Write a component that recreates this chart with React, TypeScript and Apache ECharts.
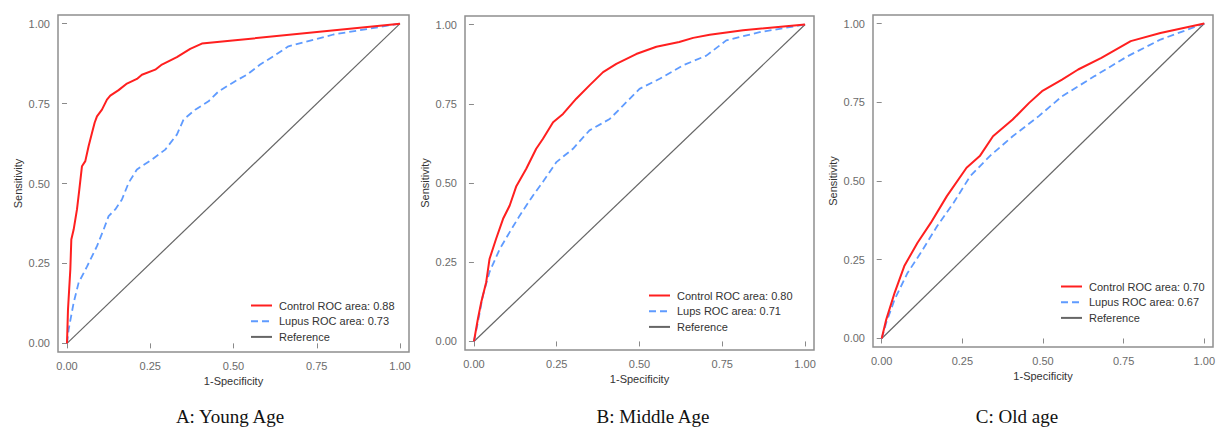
import React, { useEffect, useRef } from "react";
import * as echarts from "echarts";

const tickValues = [0, 0.25, 0.5, 0.75, 1];
const captions = ["A: Young Age", "B: Middle Age", "C: Old age"];

const youngControlName = "Control ROC area: 0.88";
const youngLupusName = "Lupus ROC area: 0.73";
const middleControlName = "Control ROC area: 0.80";
const middleLupusName = "Lups ROC area: 0.71";
const oldControlName = "Control ROC area: 0.70";
const oldLupusName = "Lupus ROC area: 0.67";
const referenceName = "Reference";

const youngControl = [
  [0, 0], [0.003, 0.106], [0.01, 0.231], [0.013, 0.325], [0.02, 0.356], [0.03, 0.419],
  [0.037, 0.481], [0.045, 0.554], [0.055, 0.57], [0.065, 0.617], [0.075, 0.658],
  [0.083, 0.69], [0.09, 0.71], [0.105, 0.731], [0.12, 0.7625], [0.13, 0.775],
  [0.155, 0.792], [0.18, 0.8125], [0.21, 0.827], [0.225, 0.84], [0.265, 0.856],
  [0.285, 0.872], [0.33, 0.895], [0.37, 0.921], [0.405, 0.9375], [0.505, 0.948], [1, 1],
];
const youngLupus = [
  [0, 0], [0.005, 0.044], [0.02, 0.127], [0.035, 0.19], [0.06, 0.24], [0.09, 0.304],
  [0.11, 0.356], [0.125, 0.398], [0.145, 0.419], [0.165, 0.45], [0.185, 0.502],
  [0.21, 0.544], [0.255, 0.575], [0.295, 0.606], [0.33, 0.653], [0.35, 0.7],
  [0.385, 0.731], [0.425, 0.757], [0.455, 0.788], [0.505, 0.82], [0.54, 0.84],
  [0.58, 0.872], [0.62, 0.898], [0.665, 0.929], [0.8, 0.966], [1, 1],
];
const middleControl = [
  [0, 0], [0.012, 0.0715], [0.022, 0.124], [0.037, 0.187], [0.047, 0.26], [0.067, 0.324],
  [0.088, 0.387], [0.108, 0.429], [0.128, 0.49], [0.158, 0.545], [0.188, 0.608],
  [0.208, 0.639], [0.239, 0.692], [0.269, 0.718], [0.309, 0.766], [0.349, 0.808],
  [0.39, 0.85], [0.43, 0.876], [0.49, 0.907], [0.551, 0.93], [0.62, 0.945],
  [0.662, 0.958], [0.712, 0.968], [0.813, 0.982], [1, 1],
];
const middleLupus = [
  [0, 0], [0.012, 0.061], [0.027, 0.145], [0.047, 0.219], [0.078, 0.292], [0.108, 0.345],
  [0.138, 0.397], [0.178, 0.46], [0.208, 0.503], [0.249, 0.566], [0.299, 0.608],
  [0.349, 0.666], [0.41, 0.702], [0.45, 0.744], [0.5, 0.797], [0.561, 0.829],
  [0.631, 0.871], [0.702, 0.902], [0.762, 0.95], [0.863, 0.976], [1, 1],
];
const oldControl = [
  [0, 0], [0.014, 0.06], [0.04, 0.145], [0.07, 0.23], [0.111, 0.304], [0.152, 0.367],
  [0.202, 0.452], [0.263, 0.542], [0.304, 0.579], [0.345, 0.642], [0.406, 0.695],
  [0.457, 0.748], [0.497, 0.785], [0.559, 0.822], [0.609, 0.854], [0.681, 0.891],
  [0.772, 0.944], [0.864, 0.97], [1, 1],
];
const oldLupus = [
  [0, 0], [0.014, 0.05], [0.04, 0.124], [0.08, 0.208], [0.121, 0.272], [0.172, 0.357],
  [0.223, 0.431], [0.274, 0.515], [0.335, 0.579], [0.406, 0.642], [0.487, 0.706],
  [0.559, 0.769], [0.66, 0.833], [0.762, 0.896], [0.864, 0.949], [1, 1],
];
const referenceLine = [[0, 0], [1, 1]];

const RED = "#ff1f1f";
const BLUE = "#5f9bff";
const GREY = "#666666";
const SANS = "'Liberation Sans', Arial, Helvetica, sans-serif";

export default function App() {
  const ref = useRef<HTMLDivElement>(null);

  useEffect(() => {
    if (!ref.current) return;
    const chart = echarts.init(ref.current, null, { renderer: "svg" });

    const grids = [
      { left: 58, top: 15, width: 351, height: 337 },
      { left: 465, top: 16, width: 349, height: 334 },
      { left: 873, top: 15, width: 344, height: 332 },
    ];
    const legendPos = [
      { left: 250, top: 300 },
      { left: 648, top: 290 },
      { left: 1060, top: 281 },
    ];
    const captionCenters = [230, 653, 1017];
    const panels = [
      { control: youngControl, lupus: youngLupus, cName: youngControlName, lName: youngLupusName },
      { control: middleControl, lupus: middleLupus, cName: middleControlName, lName: middleLupusName },
      { control: oldControl, lupus: oldLupus, cName: oldControlName, lName: oldLupusName },
    ];

    const axisCommon = {
      type: "value" as const,
      min: -0.027,
      max: 1.027,
      axisLine: { show: false },
      splitLine: { show: false },
      axisTick: {
        show: true,
        length: 5,
        customValues: tickValues,
        lineStyle: { color: "#8a8a8a", width: 1 },
      },
      axisLabel: {
        customValues: tickValues,
        formatter: (v: number) => v.toFixed(2),
        color: "#6b6b6b",
        fontSize: 11,
        fontFamily: SANS,
      },
      nameLocation: "middle" as const,
      nameTextStyle: { color: "#333", fontSize: 11, fontFamily: SANS },
    };

    const series: any[] = [];
    panels.forEach((p, i) => {
      series.push({
        name: p.cName,
        type: "line",
        xAxisIndex: i,
        yAxisIndex: i,
        data: p.control,
        symbol: "none",
        z: 4,
        lineStyle: { color: RED, width: 2 },
        itemStyle: { color: RED },
      });
      series.push({
        name: p.lName,
        type: "line",
        xAxisIndex: i,
        yAxisIndex: i,
        data: p.lupus,
        symbol: "none",
        z: 3,
        lineStyle: { color: BLUE, width: 1.8, type: [7, 4] },
        itemStyle: { color: BLUE },
      });
      series.push({
        name: referenceName,
        type: "line",
        xAxisIndex: i,
        yAxisIndex: i,
        data: referenceLine,
        symbol: "none",
        z: 2,
        lineStyle: { color: GREY, width: 1.2 },
        itemStyle: { color: GREY },
      });
    });

    chart.setOption({
      animation: false,
      backgroundColor: "#ffffff",
      grid: grids.map((g) => ({
        ...g,
        show: true,
        backgroundColor: "#ffffff",
        borderColor: "#8f8f8f",
        borderWidth: 1.5,
        containLabel: false,
      })),
      xAxis: grids.map((_, i) => ({
        ...axisCommon,
        gridIndex: i,
        name: "1-Specificity",
        nameGap: 21,
        axisLabel: { ...axisCommon.axisLabel, margin: 8 },
      })),
      yAxis: grids.map((_, i) => ({
        ...axisCommon,
        gridIndex: i,
        name: "Sensitivity",
        nameGap: 35,
        axisLabel: { ...axisCommon.axisLabel, margin: 8 },
      })),
      legend: panels.map((p, i) => ({
        orient: "vertical",
        left: legendPos[i].left,
        top: legendPos[i].top,
        itemWidth: 21,
        itemHeight: 12,
        itemGap: 4.7,
        padding: 0,
        selectedMode: false,
        itemStyle: { opacity: 0 },
        data: [p.cName, p.lName, referenceName],
        textStyle: { color: "#333", fontSize: 11, fontFamily: SANS, padding: [0, 0, 0, 2] },
      })),
      title: captions.map((c, i) => ({
        text: c,
        left: captionCenters[i],
        top: 407,
        textAlign: "center",
        padding: 0,
        textStyle: {
          fontFamily: "'Liberation Serif', 'Times New Roman', serif",
          fontSize: 19,
          fontWeight: "normal",
          color: "#111",
        },
      })),
      series,
    });

    return () => chart.dispose();
  }, []);

  return (
    <div
      ref={ref}
      style={{ position: "absolute", left: 0, top: 0, width: 1218, height: 427 }}
    />
  );
}
